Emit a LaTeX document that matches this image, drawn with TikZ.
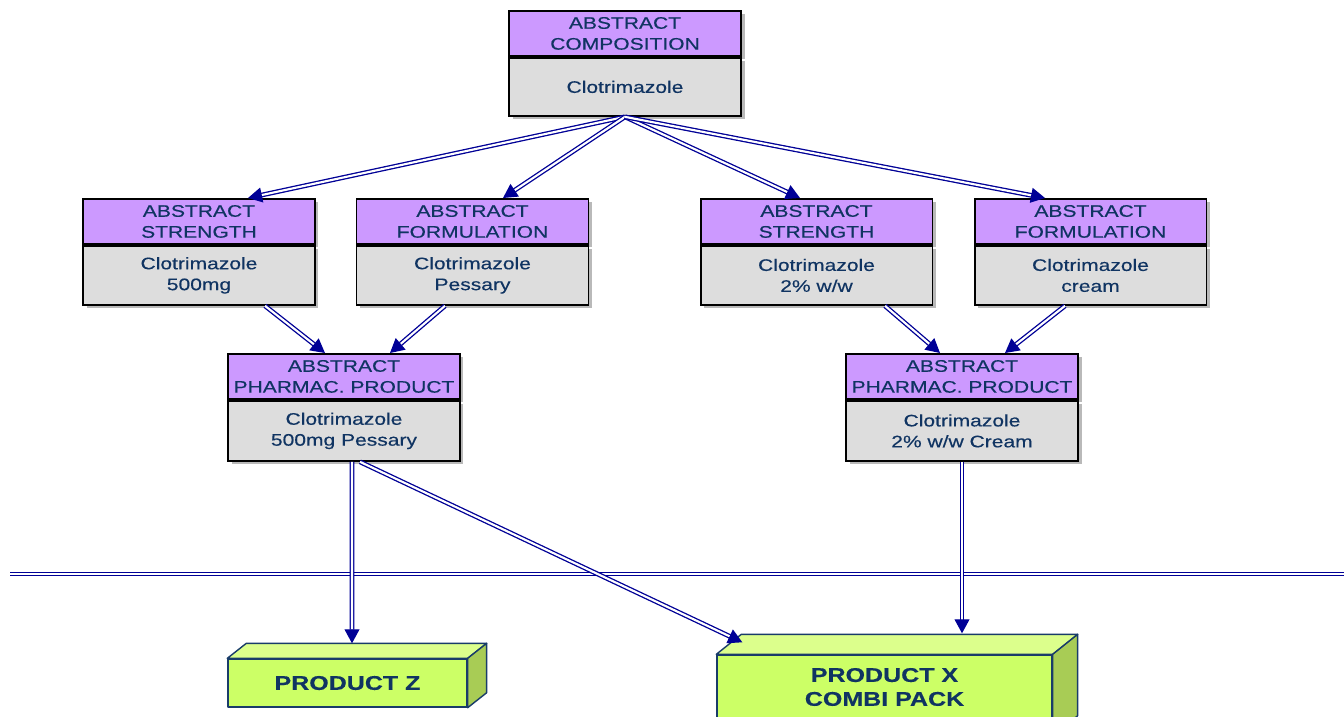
\documentclass[tikz,border=0pt]{standalone}
\usepackage{fontspec}
\setmainfont[FakeStretch=1.26,FakeBold=0.35]{Liberation Sans}
\usetikzlibrary{positioning,arrows.meta,shadows}

\definecolor{hdrviolet}{RGB}{204,153,255}
\definecolor{bodygrey}{RGB}{221,221,221}
\definecolor{txtnavy}{RGB}{16,52,98}
\definecolor{arrblue}{RGB}{0,0,150}
\definecolor{prodgreen}{RGB}{204,255,102}
\definecolor{prodlight}{RGB}{220,255,140}
\definecolor{prodside}{RGB}{168,204,85}
\definecolor{prodedge}{RGB}{25,60,105}

\tikzset{
  hdr/.style={draw=black, line width=1.1pt, fill=hdrviolet, text=txtnavy, align=center,
    minimum width=4.64cm, minimum height=0.9cm, inner xsep=1pt, inner ysep=1pt,
    font=\fontsize{9.5}{11.9}\selectfont,
    drop shadow={shadow xshift=2pt, shadow yshift=-2pt, opacity=0.55}},
  bdy/.style={hdr, fill=bodygrey, minimum height=1.18cm},
  dbl/.style={draw=arrblue, line width=0.75pt, double=white, double distance=1.2pt,
    -{Triangle[length=8pt,width=8.5pt]}},
  prodface/.style={draw=prodedge, line width=0.8pt, line join=round},
  prodtxt/.style={text=txtnavy, align=center, font=\fontsize{11.3}{13.6}\selectfont\bfseries}
}

\begin{document}
\begin{tikzpicture}[x=0.02cm, y=-0.02cm]
  \useasboundingbox (0,0) rectangle (1344,716);

  %ABSTRACT COMPOSITION
  \node[hdr, anchor=north] (compH) at (625,10) {ABSTRACT\\COMPOSITION};
  \node[bdy, below=0pt of compH, minimum height=1.16cm] (comp) {Clotrimazole};

  %strengths and formulations
  \node[hdr, anchor=north] (str1H) at (199,198) {ABSTRACT\\STRENGTH};
  \node[bdy, below=0pt of str1H] (str1) {Clotrimazole\\500mg};
  \node[hdr, anchor=north] (form1H) at (472.5,198) {ABSTRACT\\FORMULATION};
  \node[bdy, below=0pt of form1H] (form1) {Clotrimazole\\Pessary};
  \node[hdr, anchor=north] (str2H) at (816.5,198) {ABSTRACT\\STRENGTH};
  \node[bdy, below=0pt of str2H] (str2) {Clotrimazole\\2\% w/w};
  \node[hdr, anchor=north] (form2H) at (1090.5,198) {ABSTRACT\\FORMULATION};
  \node[bdy, below=0pt of form2H] (form2) {Clotrimazole\\cream};

  %pharmaceutical products
  \node[hdr, anchor=north] (pp1H) at (344,353) {ABSTRACT\\PHARMAC. PRODUCT};
  \node[bdy, below=0pt of pp1H, minimum height=1.2cm] (pp1) {Clotrimazole\\500mg Pessary};
  \node[hdr, anchor=north] (pp2H) at (962,353) {ABSTRACT\\PHARMAC. PRODUCT};
  \node[bdy, below=0pt of pp2H, minimum height=1.2cm] (pp2) {Clotrimazole\\2\% w/w Cream};

  %separator
  \coordinate (sepL) at (10,574);
  \coordinate (sepR) at (1344,574);
  \draw[dbl, -] (sepL) -- (sepR);

  %products (3d boxes)
  \node[prodface, fill=prodgreen, minimum width=4.78cm, minimum height=0.96cm, prodtxt] (prodZ) at (347.5,683) {PRODUCT Z};
  \filldraw[prodface, fill=prodlight] (prodZ.north west) -- ++(19,-15) -- ([shift={(19,-15)}]prodZ.north east) -- (prodZ.north east) -- cycle;
  \filldraw[prodface, fill=prodside] (prodZ.north east) -- ++(19,-15) -- ([shift={(19,-15)}]prodZ.south east) -- (prodZ.south east) -- cycle;

  \node[prodface, fill=prodgreen, minimum width=6.7cm, minimum height=1.6cm] (prodX) at (884.5,695) {};
  \filldraw[prodface, fill=prodlight] (prodX.north west) -- ++(25,-20) -- ([shift={(25,-20)}]prodX.north east) -- (prodX.north east) -- cycle;
  \filldraw[prodface, fill=prodside] (prodX.north east) -- ++(25,-20) -- ([shift={(25,-20)}]prodX.south east) -- (prodX.south east) -- cycle;
  \node[prodtxt] (prodXlbl) at (884.5,687) {PRODUCT X\\COMBI PACK};

  %arrows
  \draw[dbl] (comp.south) -- ([xshift=0.98cm]str1H.north);
  \draw[dbl] (comp.south) -- ([xshift=0.61cm]form1H.north);
  \draw[dbl] (comp.south) -- ([xshift=-0.33cm]str2H.north);
  \draw[dbl] (comp.south) -- ([xshift=-0.91cm]form2H.north);
  \draw[dbl] ([xshift=1.32cm]str1.south) -- ([xshift=-0.38cm]pp1H.north);
  \draw[dbl] ([xshift=-0.55cm]form1.south) -- ([xshift=0.92cm]pp1H.north);
  \draw[dbl] ([xshift=1.37cm]str2.south) -- ([xshift=-0.44cm]pp2H.north);
  \draw[dbl] ([xshift=-0.51cm]form2.south) -- ([xshift=0.86cm]pp2H.north);
  \draw[dbl] ([xshift=0.16cm]pp1.south) -- ([shift={(4.5,-15)}]prodZ.north);
  \draw[dbl] ([xshift=0.32cm]pp1.south) -- ([shift={(26,-12)}]prodX.north west);
  \draw[dbl] (pp2.south) -- ([shift={(0,-21)}]prodX.north -| pp2.south);
\end{tikzpicture}
\end{document}
